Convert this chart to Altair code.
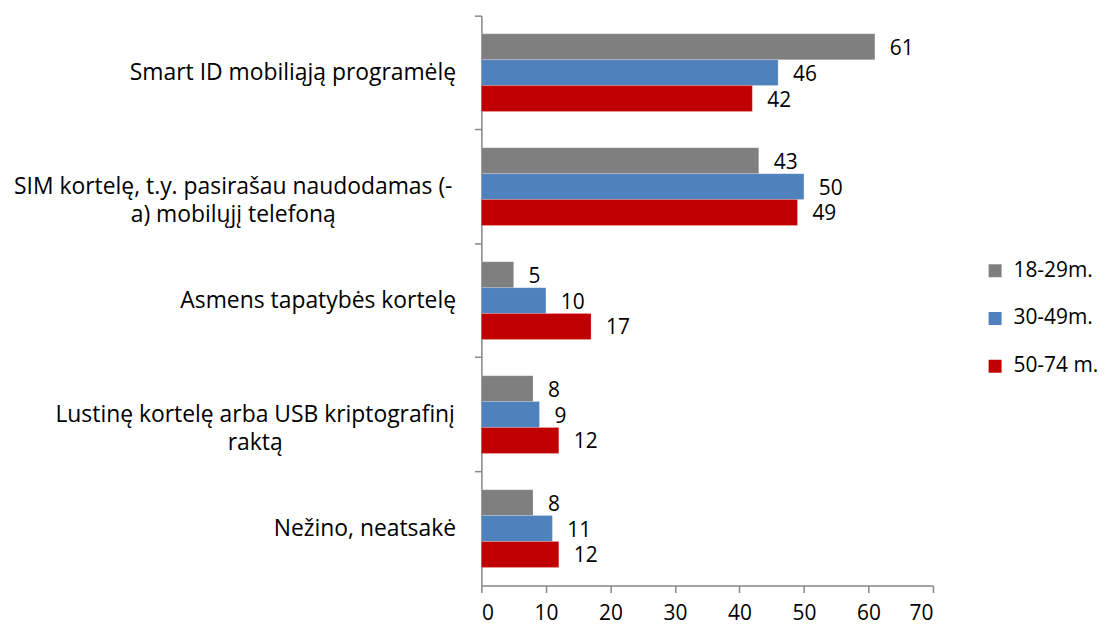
import altair as alt
import pandas as pd

categories = [
    "Smart ID mobiliąją programėlę",
    "SIM kortelę, t.y. pasirašau naudodamas (-|a) mobilųjį telefoną",
    "Asmens tapatybės kortelę",
    "Lustinę kortelę arba USB kriptografinį|raktą",
    "Nežino, neatsakė",
]
series = ["18-29m.", "30-49m.", "50-74 m."]
colors = ["#7F7F7F", "#4F81BD", "#C00000"]
v_18_29 = [61, 43, 5, 8, 8]
v_30_49 = [46, 50, 10, 9, 11]
v_50_74 = [42, 49, 17, 12, 12]

rows = []
for s, vals in zip(series, [v_18_29, v_30_49, v_50_74]):
    for c, v in zip(categories, vals):
        rows.append({"cat": c, "series": s, "value": v})
df = pd.DataFrame(rows)

FONT = "Open Sans"
FS = 21
CAT_FS = 23

multi_test = "indexof(datum.value, '|') >= 0"
y_enc = alt.Y(
    "cat:N",
    sort=categories,
    title=None,
    scale=alt.Scale(paddingInner=0, paddingOuter=0),
    axis=alt.Axis(
        bandPosition=0,
        labelExpr="split(datum.label, '|')",
        labelFont=FONT,
        labelFontSize=CAT_FS,
        labelColor="#000000",
        labelAlign={"condition": {"test": multi_test, "value": "center"}, "value": "right"},
        labelPadding={
            "condition": [
                {"test": "indexof(datum.value, 'SIM') == 0", "value": 243},
                {"test": "indexof(datum.value, 'Lustin') == 0", "value": 221},
            ],
            "value": 19,
        },
        labelLimit=600,
        labelLineHeight=29,
        tickSize=7,
        tickColor="#868686",
        domainColor="#868686",
        tickWidth=1.5,
        domainWidth=1.5,
        grid=False,
    ),
)
x_enc = alt.X(
    "value:Q",
    title=None,
    scale=alt.Scale(domain=[0, 70], nice=False),
    axis=alt.Axis(
        values=[0, 10, 20, 30, 40, 50, 60, 70],
        labelFont=FONT,
        labelFontSize=FS,
        labelColor="#000000",
        labelPadding=10,
        tickSize=7,
        tickColor="#868686",
        domainColor="#868686",
        tickWidth=1.5,
        domainWidth=1.5,
        grid=False,
    ),
)
yoff = alt.YOffset("series:N", sort=series, scale=alt.Scale(paddingInner=0, paddingOuter=0.7))

bars = alt.Chart(df).mark_bar(stroke="#ffffff", strokeWidth=0.5, strokeOpacity=0.4).encode(
    x=x_enc,
    y=y_enc,
    yOffset=yoff,
    color=alt.Color(
        "series:N",
        sort=series,
        scale=alt.Scale(domain=series, range=colors),
        legend=alt.Legend(
            title=None,
            orient="none",
            legendX=506,
            legendY=246,
            symbolType="square",
            symbolSize=170,
            symbolStrokeWidth=0,
            labelFont=FONT,
            labelFontSize=FS,
            labelColor="#000000",
            rowPadding=26,
            labelOffset=8,
            padding=0,
        ),
    ),
)

labels = alt.Chart(df).mark_text(
    align="left", baseline="middle", dx=15, dy=2, font=FONT, fontSize=FS, color="#000000"
).encode(
    x="value:Q",
    y=alt.Y("cat:N", sort=categories),
    yOffset=alt.YOffset("series:N", sort=series),
    text="value:Q",
)

chart = (
    alt.layer(bars, labels)
    .properties(width=454, height=573, background="#ffffff")
    .configure_view(stroke=None)
)

chart.save("out.html", embed_options={"renderer": "svg", "actions": False})
